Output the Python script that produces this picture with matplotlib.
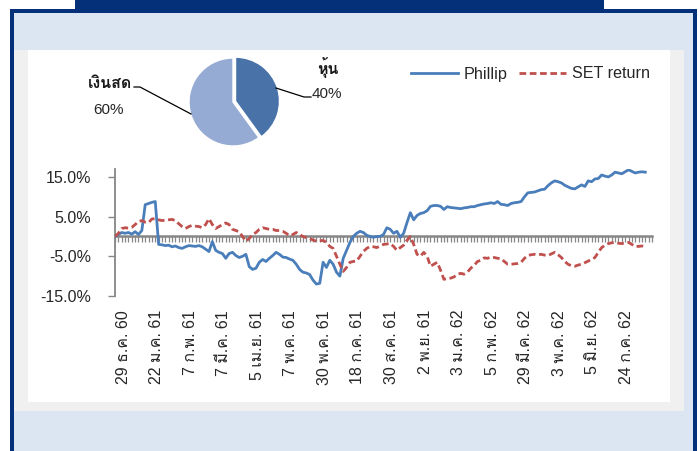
import matplotlib
matplotlib.use('Agg')
import matplotlib.pyplot as plt
import matplotlib.transforms as mtransforms
from matplotlib import font_manager
from matplotlib.ft2font import FT2Font
from matplotlib.patches import Rectangle
from matplotlib.lines import Line2D

# หา font ที่มีอักษรไทย
def find_thai_font():
    for f in font_manager.fontManager.ttflist:
        try:
            if 0x0E01 in FT2Font(f.fname).get_charmap():
                return f.name
        except Exception:
            pass
    return None

thai_font = find_thai_font()
families = ['Liberation Sans']
if thai_font:
    families.append(thai_font)
families.append('DejaVu Sans')
plt.rcParams['font.family'] = families

# ข้อมูล
tick_labels = ['29 ธ.ค. 60', '22 ม.ค. 61', '7 ก.พ. 61', '7 มี.ค. 61', '5 เม.ย. 61',
               '7 พ.ค. 61', '30 พ.ค. 61', '18 ก.ค. 61', '30 ส.ค. 61', '2 พ.ย. 61',
               '3 ม.ค. 62', '5 ก.พ. 62', '29 มี.ค. 62', '3 พ.ค. 62', '5 มิ.ย. 62',
               '24 ก.ค. 62']

phillip = [0.0, 0.5, 1.0, 0.8, 1.0, 0.6, 1.2, 0.5, 1.5, 8.0,
           8.3, 8.6, 8.8, -2.0, -2.1, -2.3, -2.2, -2.6, -2.4, -2.8,
           -3.0, -2.6, -2.3, -2.4, -2.5, -2.3, -2.6, -3.2, -3.8, -1.3,
           -3.5, -4.0, -4.3, -5.5, -4.3, -4.0, -4.8, -5.3, -5.0, -4.5,
           -7.6, -8.3, -8.0, -6.5, -5.8, -6.3, -5.5, -4.8, -4.0, -4.5,
           -5.2, -5.3, -5.7, -6.0, -7.0, -8.3, -9.0, -9.2, -9.6, -11.0,
           -12.0, -11.8, -6.5, -7.8, -6.0, -7.0, -9.0, -10.0, -5.5, -3.5,
           -1.5, 0.0, 0.8, 1.3, 1.0, 0.3, 0.0, -0.2, 0.0, 0.0,
           0.5, 2.2, 1.8, 0.8, 1.3, -0.2, 0.8, 3.5, 6.0, 4.2,
           5.3, 5.8, 6.0, 6.5, 7.6, 7.8, 7.8, 7.6, 6.8, 7.5,
           7.3, 7.2, 7.1, 7.0, 7.2, 7.3, 7.5, 7.5, 7.8, 8.0,
           8.2, 8.3, 8.5, 8.3, 8.8, 8.1, 8.0, 7.8, 8.3, 8.5,
           8.6, 8.8, 10.0, 11.0, 11.1, 11.2, 11.5, 11.8, 11.9, 12.8,
           13.5, 14.0, 13.8, 13.5, 12.9, 12.5, 12.1, 12.0, 12.5, 13.0,
           12.6, 14.0, 13.8, 14.5, 14.6, 15.5, 15.2, 15.0, 15.5, 16.2,
           16.0, 15.8, 16.3, 16.8, 16.4, 16.0, 16.2, 16.3, 16.2]

set_return = [0.0, 0.8, 2.0, 2.2, 2.1, 2.3, 3.0, 3.8, 4.0, 3.6,
              3.5, 4.4, 4.5, 4.2, 4.0, 4.1, 4.2, 4.3, 4.0, 3.2,
              2.5, 2.0, 2.5, 2.8, 2.6, 2.5, 2.2, 3.0, 4.5, 3.0,
              2.0, 2.5, 3.0, 3.4, 3.0, 1.8, 1.5, 1.2, 0.0, -1.2,
              -0.5, 0.5, 1.0, 1.8, 2.2, 2.0, 1.8, 1.8, 1.5, 1.5,
              1.3, 0.8, 0.2, 0.5, 1.0, 0.5, 0.0, -0.3, -0.5, -0.9,
              -1.2, -1.1, -1.0, -1.5, -2.5, -3.0, -5.0, -7.0, -8.8, -7.8,
              -6.5, -6.3, -6.2, -5.0, -3.8, -3.0, -2.5, -2.6, -2.8, -2.4,
              -2.0, -1.9, -1.8, -2.5, -3.5, -2.8, -2.2, -1.0, 0.0, -2.0,
              -4.5, -5.0, -4.0, -5.0, -7.5, -7.0, -6.5, -8.5, -10.8, -10.6,
              -10.5, -10.2, -9.5, -9.3, -9.5, -9.0, -8.0, -7.3, -6.3, -6.0,
              -5.4, -5.5, -5.2, -5.3, -5.5, -5.6, -6.3, -7.0, -7.0, -6.9,
              -6.8, -6.5, -5.5, -4.8, -4.6, -4.5, -4.6, -4.5, -4.7, -4.8,
              -4.4, -4.0, -4.6, -5.3, -6.3, -7.0, -7.4, -7.5, -7.2, -7.0,
              -6.6, -6.2, -5.8, -5.3, -4.0, -2.8, -2.2, -1.8, -1.6, -1.5,
              -1.7, -1.8, -1.6, -1.5, -2.0, -2.5, -2.5, -2.4, -2.5]

pie_labels = ['หุ้น', 'เงินสด']
pie_values = [40, 60]
pie_colors = ['#4872a8', '#96abd4']

n_cat = 161
label_step = 10

W, H = 700, 451
fig = plt.figure(figsize=(W / 100, H / 100), dpi=100, facecolor='white')


def fx(x):
    return x / W


def fy(y):
    return 1 - y / H


def px_rect(x0, y0, x1, y1, color):
    fig.add_artist(Rectangle((fx(x0), fy(y1)), fx(x1) - fx(x0), fy(y0) - fy(y1),
                             transform=fig.transFigure, facecolor=color,
                             edgecolor='none', zorder=-10))


# กรอบพื้นหลัง
navy = '#04307a'
px_rect(75, 0, 604, 12, navy)
px_rect(10, 9, 697, 451, navy)
px_rect(14, 13, 693, 451, '#dce6f2')
px_rect(14, 50, 684, 411, '#f0f0f0')
px_rect(28, 50, 670, 402, 'white')

# กราฟเส้น
ax = fig.add_axes([fx(115), fy(296), fx(652) - fx(115), fy(169) - fy(296)])
ax.set_facecolor('none')
x = list(range(len(phillip)))
ax.plot(x, phillip, color='#4a7ebb', lw=2.0, label='Phillip', zorder=3)
ax.plot(range(len(set_return)), set_return, color='#c0504d', lw=2.0,
        dashes=(2.4, 1.3), label='SET return', zorder=3)
ax.set_xlim(0, n_cat - 1)
ax.set_ylim(-15, 17)

axis_gray = '#868686'
for s in ['top', 'right']:
    ax.spines[s].set_visible(False)
ax.spines['left'].set_color(axis_gray)
ax.spines['left'].set_linewidth(1.3)
ax.spines['bottom'].set_position(('data', 0))
ax.spines['bottom'].set_color(axis_gray)
ax.spines['bottom'].set_linewidth(1.8)
ax.spines['bottom'].set_zorder(2)

ax.set_yticks([-15, -5, 5, 15])
ax.set_yticklabels(['%.1f%%' % v for v in [-15, -5, 5, 15]])
ax.tick_params(axis='y', direction='out', length=5, width=1, color=axis_gray,
               labelsize=11.5, labelcolor='#262626', pad=12)
ax.set_xticks(range(n_cat))
ax.tick_params(axis='x', direction='out', length=4.5, width=0.9, color=axis_gray,
               labelbottom=False)

sec = ax.secondary_xaxis('bottom')
sec.set_xticks(range(0, len(tick_labels) * label_step, label_step))
sec.set_xticklabels(tick_labels, rotation=90)
sec.tick_params(length=0, pad=10, labelsize=11.5, labelcolor='#262626')
sec.spines['bottom'].set_visible(False)
shift = mtransforms.ScaledTranslation(8 / 100, 0, fig.dpi_scale_trans)
for lab in sec.get_xticklabels():
    lab.set_transform(lab.get_transform() + shift)

fig.legend(handles=ax.get_lines(), loc='center left',
           bbox_to_anchor=(fx(411), fy(74)), ncol=2, frameon=False,
           fontsize=11.6, handlelength=2.9, handletextpad=0.35,
           columnspacing=0.75, borderpad=0, borderaxespad=0,
           labelcolor='#262626')

# กราฟวงกลม
R = 44
pax = fig.add_axes([fx(233 - R), fy(102 + R), fx(2 * R), 2 * R / H])
wedges, _ = pax.pie(pie_values, colors=pie_colors, startangle=90,
                    counterclock=False, explode=[0.06, 0],
                    wedgeprops=dict(edgecolor='white', linewidth=1))
for w in wedges:
    w.set_clip_on(False)
pax.set_xlim(-1, 1)
pax.set_ylim(-1, 1)
pax.axis('off')

# ป้ายกราฟวงกลม
fig.add_artist(Line2D([fx(276), fx(304), fx(311)], [fy(88), fy(97), fy(97)],
                      transform=fig.transFigure, color='black', lw=0.9))
fig.add_artist(Line2D([fx(134), fx(140), fx(191)], [fy(87), fy(87), fy(114)],
                      transform=fig.transFigure, color='black', lw=0.9))
fig.text(fx(328), fy(67), pie_labels[0], ha='center', va='center',
         fontsize=11.5, fontweight='bold', color='#1a1a1a')
fig.text(fx(327), fy(94), '%d%%' % pie_values[0], ha='center', va='center',
         fontsize=11, color='#262626', family=['Liberation Sans', 'DejaVu Sans'])
fig.text(fx(110), fy(83), pie_labels[1], ha='center', va='center',
         fontsize=11.5, fontweight='bold', color='#1a1a1a')
fig.text(fx(109), fy(110), '%d%%' % pie_values[1], ha='center', va='center',
         fontsize=11, color='#262626', family=['Liberation Sans', 'DejaVu Sans'])

fig.savefig('out.png', dpi=100, facecolor='white')
